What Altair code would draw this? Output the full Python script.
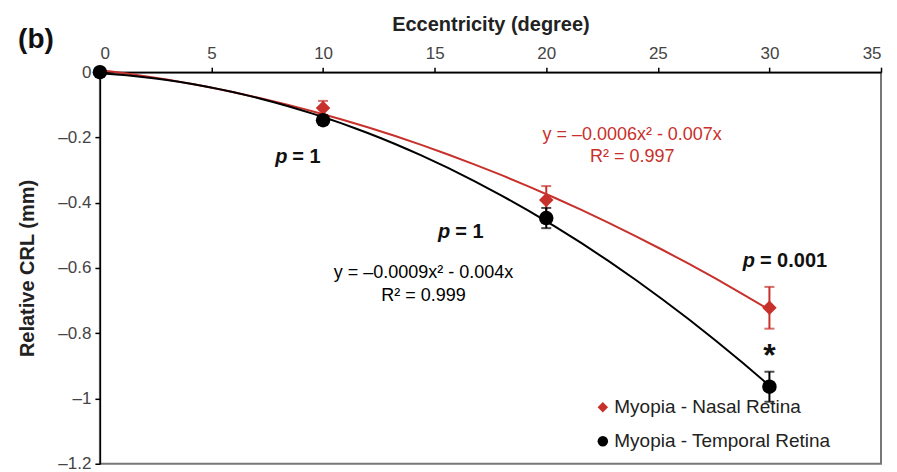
import altair as alt
import pandas as pd

# ---- data ----
ecc = [0, 10, 20, 30]
nasal = [0, -0.110, -0.392, -0.722]
nasal_err = [0, 0.022, 0.043, 0.064]
temporal = [0, -0.147, -0.447, -0.964]
temporal_err = [0, 0.014, 0.031, 0.046]
series = ["Myopia - Nasal Retina", "Myopia - Temporal Retina"]
colors = ["#c8302b", "#000000"]
shapes = ["diamond", "circle"]

x_ticks = [0, 5, 10, 15, 20, 25, 30, 35]
y_ticks = [0, -0.2, -0.4, -0.6, -0.8, -1.0, -1.2]

# p-value annotations
p_x = [8.4, 15.7, 29.35]
p_y = [-0.26, -0.49, -0.58]
p_rest = ["= 1", "= 1", "= 0.001"]

# equations
eq_x = [23.85, 23.85, 14.5, 14.5]
eq_y = [-0.193, -0.26, -0.615, -0.686]
eq_text = ["y = \u20130.0006x\u00b2 - 0.007x", "R\u00b2 = 0.997",
           "y = \u20130.0009x\u00b2 - 0.004x", "R\u00b2 = 0.999"]
eq_series = [series[0], series[0], series[1], series[1]]

FONT = "Liberation Sans"

rows = []
for i in range(len(ecc)):
    rows.append({"ecc": ecc[i], "val": nasal[i], "lo": nasal[i] - nasal_err[i],
                 "hi": nasal[i] + nasal_err[i], "err": nasal_err[i], "series": series[0]})
    rows.append({"ecc": ecc[i], "val": temporal[i], "lo": temporal[i] - temporal_err[i],
                 "hi": temporal[i] + temporal_err[i], "err": temporal_err[i], "series": series[1]})
df = pd.DataFrame(rows)

x_scale = alt.Scale(domain=[0, 35], nice=False)
y_scale = alt.Scale(domain=[-1.2, 0], nice=False)

x_axis = alt.Axis(orient="top", values=x_ticks, title="Eccentricity (degree)",
                  labelPadding=5, titlePadding=10)
y_axis = alt.Axis(values=y_ticks, title="Relative CRL (mm)", titlePadding=20,
                  labelPadding=4,
                  labelExpr="datum.value == 0 ? '0' : '\u2013' + format(abs(datum.value), '~g')")

def X(field="ecc"):
    return alt.X(f"{field}:Q", scale=x_scale, axis=x_axis)

def Y(field="val"):
    return alt.Y(f"{field}:Q", scale=y_scale, axis=y_axis)

layers = []

# trend lines (library polynomial regression)
for s, c in zip(series, colors):
    layers.append(
        alt.Chart(df).transform_filter(alt.datum.series == s)
        .transform_regression("ecc", "val", method="poly", order=2, extent=[0, 30])
        .mark_line(color=c, strokeWidth=2)
        .encode(x=X(), y=Y())
    )

# error bars
for s, c in zip(series, colors):
    eb = alt.Chart(df).transform_filter((alt.datum.series == s) & (alt.datum.err > 0))
    layers.append(eb.mark_rule(color=c, strokeWidth=2).encode(x=X(), y=Y("lo"), y2="hi:Q"))
    layers.append(eb.mark_tick(color=c, orient="horizontal", size=10, thickness=2)
                  .encode(x=X(), y=Y("lo")))
    layers.append(eb.mark_tick(color=c, orient="horizontal", size=10, thickness=2)
                  .encode(x=X(), y=Y("hi")))

# points
layers.append(
    alt.Chart(df).mark_point(filled=True, opacity=1, size=210)
    .encode(
        x=X(), y=Y(),
        color=alt.Color("series:N", scale=alt.Scale(domain=series, range=colors),
                        legend=alt.Legend(orient="none", legendX=494, legendY=326, title=None,
                                          labelFont=FONT, labelFontSize=19, labelColor="#222",
                                          symbolSize=110, rowPadding=14, labelOffset=2,
                                          labelLimit=400, symbolStrokeWidth=0, padding=0)),
        shape=alt.Shape("series:N", scale=alt.Scale(domain=series, range=shapes)),
    )
)

# p-value annotations
pdf = pd.DataFrame({"x": p_x, "y": p_y, "rest": p_rest, "p": ["p"] * len(p_x)})
layers.append(
    alt.Chart(pdf).mark_text(font=FONT, fontSize=20, fontWeight="bold", fontStyle="italic",
                             align="right", baseline="middle", color="#111")
    .encode(x=alt.X("x:Q", scale=x_scale, axis=x_axis), y=alt.Y("y:Q", scale=y_scale, axis=y_axis),
            text="p:N")
)
layers.append(
    alt.Chart(pdf).mark_text(font=FONT, fontSize=20, fontWeight="bold",
                             align="left", baseline="middle", dx=5, color="#111")
    .encode(x=alt.X("x:Q", scale=x_scale, axis=x_axis), y=alt.Y("y:Q", scale=y_scale, axis=y_axis),
            text="rest:N")
)

# equations
edf = pd.DataFrame({"x": eq_x, "y": eq_y, "t": eq_text, "series": eq_series})
layers.append(
    alt.Chart(edf).mark_text(font=FONT, fontSize=18, align="center", baseline="middle")
    .encode(x=alt.X("x:Q", scale=x_scale, axis=x_axis), y=alt.Y("y:Q", scale=y_scale, axis=y_axis),
            text="t:N",
            color=alt.Color("series:N", scale=alt.Scale(domain=series, range=["#c8302b", "#333333"]),
                            legend=None))
)

# significance asterisk
sdf = pd.DataFrame({"x": [30], "y": [-0.9], "t": ["*"]})
layers.append(
    alt.Chart(sdf).mark_text(font=FONT, fontSize=32, fontWeight="bold", align="center",
                             baseline="alphabetic", color="#111")
    .encode(x=alt.X("x:Q", scale=x_scale, axis=x_axis), y=alt.Y("y:Q", scale=y_scale, axis=y_axis),
            text="t:N")
)

# panel label
bdf = pd.DataFrame({"t": ["(b)"]})
layers.append(
    alt.Chart(bdf).mark_text(font=FONT, fontSize=28, fontWeight="bold", align="center",
                             baseline="middle", color="#111")
    .encode(x=alt.value(-64), y=alt.value(-32), text="t:N")
)

chart = (
    alt.layer(*layers)
    .properties(width=782, height=392, autosize=alt.AutoSizeParams(type="none"),
                padding={"left": 92, "top": 64, "right": 8, "bottom": 8})
    .configure_view(stroke="#777777", strokeWidth=2)
    .configure_axis(domainColor="#000000", domainWidth=1.5, tickColor="#000000", tickWidth=1.5,
                    tickSize=5, labelFont=FONT, labelFontSize=17, labelColor="#444444",
                    titleFont=FONT, titleFontSize=20, titleFontWeight="bold", titleColor="#222222",
                    grid=False)
)

chart.save("out.html", embed_options={"renderer": "svg", "actions": False})
